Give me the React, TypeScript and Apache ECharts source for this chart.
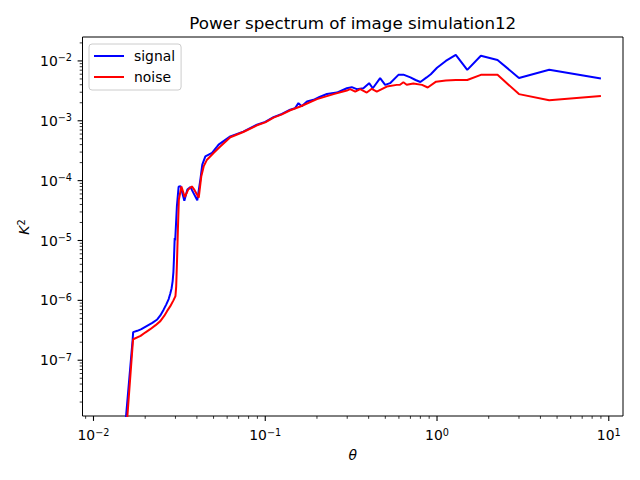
import React, { useEffect, useRef } from "react";
import * as echarts from "echarts";

// angular scale (theta) and power (K^2)
const signalTheta = [
  0.0153, 0.0169, 0.01702, 0.018, 0.019, 0.0205, 0.022, 0.0235, 0.0245, 0.0256,
  0.0265, 0.0274, 0.028, 0.0285, 0.0289, 0.0292, 0.0294, 0.0297, 0.0299, 0.0306,
  0.0313, 0.0321, 0.0338, 0.0352, 0.0367, 0.0381, 0.0402, 0.0419, 0.043, 0.0448,
  0.049, 0.0524, 0.0535, 0.0626, 0.0745, 0.0895, 0.1, 0.1117, 0.125, 0.1397,
  0.149, 0.156, 0.163, 0.175, 0.191, 0.207, 0.2286, 0.261, 0.2985, 0.319,
  0.341, 0.3727, 0.4024, 0.4228, 0.4664, 0.499, 0.533, 0.596, 0.637, 0.7,
  0.75, 0.8, 0.87, 0.92, 1.0, 1.125, 1.286, 1.5, 1.8, 2.25,
  3.0, 4.5, 9.0,
];
const signalPower = [
  8e-9, 2.2e-7, 2.95e-7, 3.1e-7, 3.3e-7, 3.75e-7, 4.2e-7, 4.8e-7, 5.6e-7, 7.0e-7,
  8.5e-7, 1.05e-6, 1.3e-6, 1.6e-6, 2.1e-6, 3.0e-6, 4.8e-6, 1.1e-5, 1.0e-5, 3.8e-5,
  7.9e-5, 8.1e-5, 4.6e-5, 7.1e-5, 7.8e-5, 6.3e-5, 4.7e-5, 1.04e-4, 1.85e-4, 2.55e-4,
  2.9e-4, 3.7e-4, 4.0e-4, 5.5e-4, 6.6e-4, 8.6e-4, 9.6e-4, 1.15e-3, 1.3e-3, 1.53e-3,
  1.62e-3, 1.97e-3, 1.75e-3, 2.1e-3, 2.24e-3, 2.5e-3, 2.8e-3, 2.96e-3, 3.5e-3, 3.65e-3,
  3.38e-3, 3.5e-3, 4.25e-3, 3.5e-3, 5.15e-3, 3.98e-3, 4.25e-3, 5.85e-3, 5.9e-3, 5.3e-3,
  4.8e-3, 4.45e-3, 5.3e-3, 6.0e-3, 7.7e-3, 1.0e-2, 1.26e-2, 7.1e-3, 1.22e-2, 1.04e-2,
  5.2e-3, 7.1e-3, 5.1e-3,
];

const noiseTheta = [
  0.0156, 0.01695, 0.01702, 0.0188, 0.02, 0.0214, 0.023, 0.0245, 0.0258, 0.0268,
  0.028, 0.0292, 0.03, 0.0303, 0.0306, 0.031, 0.0314, 0.0325, 0.034, 0.0356,
  0.0374, 0.0387, 0.041, 0.0424, 0.0438, 0.0458, 0.05, 0.0547, 0.0626, 0.0745,
  0.0895, 0.1, 0.1117, 0.125, 0.1397, 0.16, 0.2, 0.25, 0.2985, 0.312,
  0.334, 0.357, 0.39, 0.417, 0.446, 0.51, 0.583, 0.609, 0.637, 0.666,
  0.728, 0.818, 0.883, 0.987, 1.125, 1.286, 1.5, 1.8, 2.25, 3.0,
  4.5, 9.0,
];
const noisePower = [
  8e-9, 2.0e-7, 2.24e-7, 2.55e-7, 2.9e-7, 3.3e-7, 3.85e-7, 4.5e-7, 5.5e-7, 6.6e-7,
  8.0e-7, 1.0e-6, 1.18e-6, 1.7e-6, 4.0e-6, 1.5e-5, 4.8e-5, 8.0e-5, 5.3e-5, 7.1e-5,
  8.0e-5, 7.0e-5, 5.2e-5, 1.17e-4, 1.73e-4, 2.24e-4, 2.9e-4, 3.73e-4, 5.3e-4, 6.5e-4,
  8.4e-4, 9.4e-4, 1.13e-3, 1.28e-3, 1.5e-3, 1.73e-3, 2.3e-3, 2.79e-3, 3.2e-3, 3.38e-3,
  3.08e-3, 3.38e-3, 2.96e-3, 3.42e-3, 3.08e-3, 3.73e-3, 3.98e-3, 3.99e-3, 4.4e-3, 4.0e-3,
  4.2e-3, 3.98e-3, 3.6e-3, 4.5e-3, 4.7e-3, 4.8e-3, 4.8e-3, 5.85e-3, 5.85e-3, 2.79e-3,
  2.21e-3, 2.6e-3,
];

const xMin = 0.00863;
const xMax = 12.1;
const yMin = 1.17e-8;
const yMax = 0.0251;
const xDecades = [-3, -2, -1, 0, 1];
const yDecades = [-9, -8, -7, -6, -5, -4, -3, -2];

const FONT = '"DejaVu Sans", sans-serif';

const powLabel = (v: number) => {
  const e = Math.log10(v);
  const r = Math.round(e);
  if (Math.abs(e - r) > 1e-6) return "";
  return `{b|10}{s|${r < 0 ? "\u2212" + -r : r}}`;
};

const richPow = {
  b: { fontSize: 13.9, lineHeight: 16, fontFamily: FONT, color: "#000" },
  s: { fontSize: 9.7, lineHeight: 10, verticalAlign: "top", fontFamily: FONT, color: "#000" },
};

// major + minor tick positions (1..9 x 10^e) inside the range
const tickData: number[][] = [];
xDecades.forEach((e) => {
  for (let m = 1; m <= 9; m++) {
    const v = m * Math.pow(10, e);
    if (v >= xMin && v <= xMax) tickData.push([v, yMin, 0, m === 1 ? 1 : 0]);
  }
});
yDecades.forEach((e) => {
  for (let m = 1; m <= 9; m++) {
    const v = m * Math.pow(10, e);
    if (v >= yMin && v <= yMax) tickData.push([xMin, v, 1, m === 1 ? 1 : 0]);
  }
});

const App: React.FC = () => {
  const chartRef = useRef<HTMLDivElement | null>(null);

  useEffect(() => {
    if (!chartRef.current) return;
    const chart = echarts.init(chartRef.current, null, { renderer: "svg" });

    const option: any = {
      animation: false,
      backgroundColor: "#fff",
      textStyle: { fontFamily: FONT },
      grid: {
        left: 82.5,
        right: 17,
        top: 37,
        bottom: 64,
        containLabel: false,
        outerBoundsMode: "none",
        show: true,
        borderColor: "#000",
        borderWidth: 1,
        backgroundColor: "transparent",
      },
      legend: {
        data: ["signal", "noise"],
        orient: "vertical",
        left: 89,
        top: 44,
        padding: [5, 6, 6, 5],
        itemGap: 7,
        itemWidth: 30,
        itemHeight: 2,
        icon: "rect",
        textStyle: { fontSize: 13.9, fontFamily: FONT, color: "#000", padding: [0, 0, 0, 5] },
        borderColor: "#cccccc",
        borderWidth: 1,
        borderRadius: 3,
        backgroundColor: "rgba(255,255,255,0.8)",
      },
      xAxis: {
        type: "log",
        logBase: 10,
        min: xMin,
        max: xMax,
        axisLine: { show: false },
        axisTick: { show: false },
        splitLine: { show: false },
        axisLabel: {
          margin: 11,
          formatter: powLabel,
          rich: richPow,
        },
      },
      yAxis: {
        type: "log",
        logBase: 10,
        min: yMin,
        max: yMax,
        axisLine: { show: false },
        axisTick: { show: false },
        splitLine: { show: false },
        axisLabel: {
          margin: 10.5,
          formatter: powLabel,
          rich: richPow,
        },
      },
      graphic: [
        {
          type: "text",
          x: 352.75,
          y: 23,
          style: {
            text: "Power spectrum of image simulation12",
            fontSize: 16.7,
            fontFamily: FONT,
            fill: "#000",
            align: "center",
            verticalAlign: "middle",
          },
        },
        {
          type: "text",
          x: 352.75,
          y: 455,
          style: {
            text: "\u03b8",
            fontSize: 13.9,
            fontStyle: "italic",
            fontFamily: FONT,
            fill: "#000",
            align: "center",
            verticalAlign: "middle",
          },
        },
        {
          type: "text",
          x: 24,
          y: 227,
          rotation: Math.PI / 2,
          style: {
            text: "{k|K}{s|2}",
            align: "center",
            verticalAlign: "middle",
            rich: {
              k: { fontSize: 13.9, lineHeight: 16, fontStyle: "italic", fontFamily: FONT, color: "#000" },
              s: { fontSize: 9.7, lineHeight: 10, verticalAlign: "top", fontFamily: FONT, color: "#000" },
            },
          },
        },
      ],
      series: [
        {
          name: "signal",
          type: "line",
          data: signalTheta.map((t, i) => [t, signalPower[i]]),
          symbol: "none",
          showSymbol: false,
          color: "#0000ff",
          lineStyle: { width: 2, color: "#0000ff" },
          z: 3,
        },
        {
          name: "noise",
          type: "line",
          data: noiseTheta.map((t, i) => [t, noisePower[i]]),
          symbol: "none",
          showSymbol: false,
          color: "#ff0000",
          lineStyle: { width: 2, color: "#ff0000" },
          z: 3,
        },
        {
          name: "ticks",
          type: "custom",
          silent: true,
          clip: false,
          encode: { x: 0, y: 1 },
          data: tickData,
          renderItem: (_params: any, api: any) => {
            const p = api.coord([api.value(0), api.value(1)]);
            const major = api.value(3) === 1;
            const len = major ? 4.9 : 2.8;
            const isX = api.value(2) === 0;
            return {
              type: "line",
              shape: isX
                ? { x1: p[0], y1: p[1], x2: p[0], y2: p[1] + len }
                : { x1: p[0] - len, y1: p[1], x2: p[0], y2: p[1] },
              style: { stroke: "#000", lineWidth: major ? 1.1 : 0.8 },
            };
          },
        },
      ],
    };

    chart.setOption(option);

    return () => {
      chart.dispose();
    };
  }, []);

  return (
    <div
      ref={chartRef}
      style={{ position: "absolute", left: 0, top: 0, width: 640, height: 480 }}
    />
  );
};

export default App;
